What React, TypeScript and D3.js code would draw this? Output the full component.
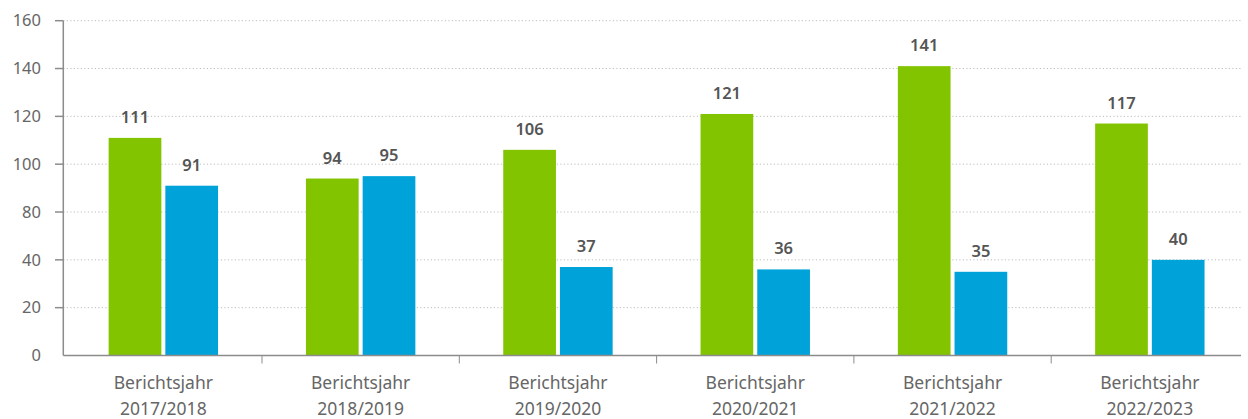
import React from "react";
import * as d3 from "d3";

const categories = ["2017/2018", "2018/2019", "2019/2020", "2020/2021", "2021/2022", "2022/2023"];
const categoryPrefix = "Berichtsjahr";
const greenValues = [111, 94, 106, 121, 141, 117];
const blueValues = [91, 95, 37, 36, 35, 40];
const yTicks = [0, 20, 40, 80, 100, 120, 140, 160];

const W = 1248;
const H = 419;
const GREEN = "#82c400";
const BLUE = "#00a3d9";

export default function App() {
  const x0 = 64.7;
  const step = 197.3;
  const x = d3
    .scaleBand<string>()
    .domain(categories)
    .range([x0, x0 + step * categories.length])
    .paddingInner(0)
    .paddingOuter(0);
  const yTop = 20.7;
  const yBottom = 355.5;
  const y = d3
    .scaleLinear()
    .domain(yTicks)
    .range(yTicks.map((_, i) => yBottom - (i * (yBottom - yTop)) / (yTicks.length - 1)));

  const barW = 52.7;
  const gap = 4;
  const groupW = barW * 2 + gap;
  const axisX = 63.3;
  const rightX = 1241;

  return (
    <svg
      width={W}
      height={H}
      style={{ position: "absolute", left: 0, top: 0, fontFamily: "'Noto Sans', sans-serif" }}
    >
      {yTicks.filter((t) => t !== 0).map((t) => (
        <line
          key={"g" + t}
          x1={axisX}
          x2={rightX}
          y1={y(t)}
          y2={y(t)}
          stroke="#bdbdbd"
          strokeWidth={1}
          strokeDasharray="1.2 2.3"
        />
      ))}
      {categories.map((c, i) => {
        const bx = (x(c) as number) + (x.bandwidth() - groupW) / 2;
        const gx = bx;
        const blx = bx + barW + gap;
        const gy = y(greenValues[i]);
        const by = y(blueValues[i]);
        return (
          <g key={c}>
            <rect x={gx} y={gy} width={barW} height={yBottom - gy} fill={GREEN} />
            <rect x={blx} y={by} width={barW} height={yBottom - by} fill={BLUE} />
            <text
              x={gx + barW / 2}
              y={gy - 15}
              textAnchor="middle"
              fontSize={16.5}
              fontWeight={600}
              fill="#555"
            >
              {greenValues[i]}
            </text>
            <text
              x={blx + barW / 2}
              y={by - 15}
              textAnchor="middle"
              fontSize={16.5}
              fontWeight={600}
              fill="#555"
            >
              {blueValues[i]}
            </text>
          </g>
        );
      })}
      <line x1={axisX} x2={axisX} y1={yTop} y2={yBottom} stroke="#8c8c8c" strokeWidth={1.5} />
      {yTicks.map((t) => (
        <g key={"y" + t}>
          {t !== 0 && (
            <line x1={55} x2={axisX} y1={y(t)} y2={y(t)} stroke="#8c8c8c" strokeWidth={1.5} />
          )}
          <text
            x={41}
            y={y(t)}
            dy="0.35em"
            textAnchor="end"
            fontSize={16.5}
            fill="#666"
          >
            {t}
          </text>
        </g>
      ))}
      <line x1={axisX} x2={rightX} y1={yBottom} y2={yBottom} stroke="#8c8c8c" strokeWidth={1.5} />
      {categories.slice(1).map((c) => (
        <line
          key={"xt" + c}
          x1={x(c) as number}
          x2={x(c) as number}
          y1={yBottom}
          y2={yBottom + 8}
          stroke="#8c8c8c"
          strokeWidth={1}
        />
      ))}
      {categories.map((c) => {
        const cx = (x(c) as number) + x.bandwidth() / 2;
        return (
          <g key={"xl" + c}>
            <text x={cx} y={383} dy="0.35em" textAnchor="middle" fontSize={17.5} fill="#666">
              {categoryPrefix}
            </text>
            <text x={cx} y={409} dy="0.35em" textAnchor="middle" fontSize={17.5} fill="#666">
              {c}
            </text>
          </g>
        );
      })}
    </svg>
  );
}
